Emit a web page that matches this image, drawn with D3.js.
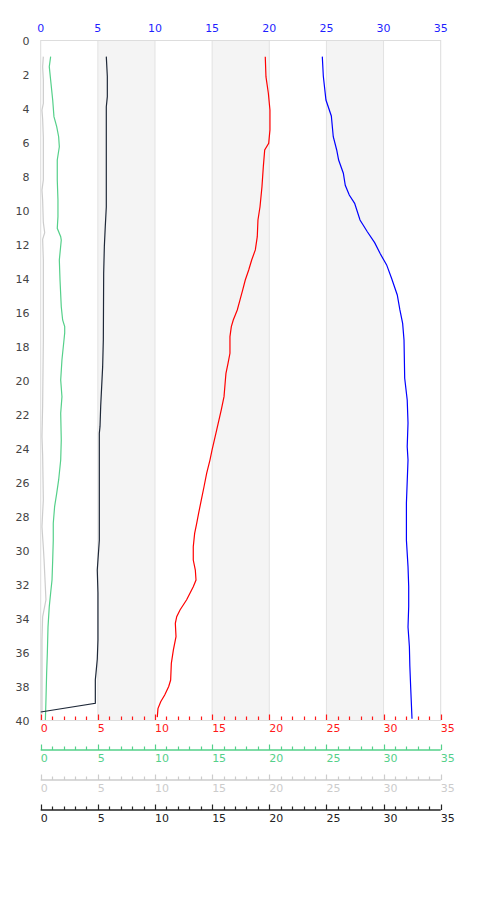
<!DOCTYPE html>
<html><head><meta charset="utf-8">
<script src="https://cdn.jsdelivr.net/npm/d3@7"></script>
<style>html,body{margin:0;padding:0;background:#fff;}svg{display:block;font-family:"DejaVu Sans",sans-serif;}</style>
</head><body>
<svg id="chart" width="480" height="900"></svg>
<script>
// ---- data (depth, value) ----
const xTicks = [0, 5, 10, 15, 20, 25, 30, 35];
const depthTicks = [0,2,4,6,8,10,12,14,16,18,20,22,24,26,28,30,32,34,36,38,40];
const bands = [[5,10],[15,20],[25,30]];

const blueProfile = [[0.95,24.64],[2.1,24.73],[3.5,24.96],[4.44,25.43],[5.66,25.6],[6.44,25.9],[7.03,26.07],[7.81,26.48],[8.52,26.65],[9.09,27.0],[9.58,27.47],[10.56,27.94],[11.25,28.58],[11.89,29.22],[12.52,29.69],[13.2,30.27],[13.99,30.7],[14.97,31.2],[15.85,31.43],[16.64,31.67],[17.62,31.79],[19.87,31.85],[21.15,32.07],[22.5,32.14],[23.9,32.07],[24.68,32.14],[27.2,32.0],[29.4,32.0],[30.95,32.14],[32.1,32.2],[33.3,32.2],[34.5,32.14],[35.66,32.26],[36.8,32.3],[38.0,32.37],[39.9,32.49]];

const redProfile = [[0.95,19.65],[2.13,19.71],[3.1,19.92],[4.09,20.06],[5.26,20.06],[6.05,19.95],[6.44,19.6],[7.42,19.48],[8.6,19.36],[9.78,19.19],[10.56,19.01],[11.54,18.95],[12.32,18.78],[12.91,18.46],[13.5,18.2],[14.09,17.9],[14.68,17.67],[15.26,17.44],[15.85,17.2],[16.44,16.85],[16.83,16.68],[17.42,16.56],[18.4,16.56],[18.99,16.39],[19.58,16.21],[19.97,16.16],[20.95,16.04],[21.73,15.8],[22.9,15.4],[24.1,14.99],[24.68,14.81],[25.46,14.52],[26.25,14.29],[27.03,14.05],[27.8,13.82],[28.4,13.65],[28.99,13.47],[29.78,13.35],[30.56,13.35],[31.15,13.53],[31.74,13.59],[32.13,13.35],[32.9,12.77],[33.5,12.19],[33.89,11.9],[34.28,11.78],[35.07,11.84],[35.85,11.61],[36.64,11.43],[37.62,11.37],[38.0,11.2],[38.5,10.85],[38.9,10.5],[39.3,10.26],[39.8,10.2]];

const blackProfile = [[0.95,5.74],[2.1,5.83],[3.3,5.83],[3.9,5.74],[9.8,5.74],[10.95,5.65],[12.1,5.57],[13.7,5.51],[17.6,5.48],[19.2,5.42],[21.5,5.25],[22.7,5.19],[23.1,5.13],[29.4,5.13],[30.56,5.01],[31.15,4.95],[32.5,5.01],[35.26,5.01],[36.4,4.95],[37.2,4.84],[37.6,4.78],[38.99,4.78],[39.5,0.0]];

const greenProfile = [[0.95,0.87],[1.54,0.75],[2.32,0.87],[3.5,1.05],[4.48,1.16],[5.07,1.4],[5.66,1.57],[6.25,1.63],[7.03,1.45],[8.2,1.45],[9.38,1.51],[10.36,1.51],[11.05,1.45],[11.54,1.75],[11.74,1.8],[12.91,1.63],[14.09,1.69],[15.66,1.8],[16.44,1.92],[16.83,2.1],[17.2,2.1],[17.6,2.04],[18.78,1.86],[19.97,1.75],[20.95,1.86],[21.93,1.75],[23.5,1.8],[24.68,1.75],[25.85,1.57],[26.64,1.4],[27.4,1.22],[28.4,1.1],[29.4,1.1],[30.56,1.05],[31.74,0.99],[32.5,0.87],[33.3,0.75],[34.5,0.64],[36.05,0.58],[37.2,0.52],[38.8,0.46],[39.97,0.41]];

const grayProfile = [[0.95,0.23],[1.54,0.17],[2.3,0.23],[3.7,0.23],[4.1,0.11],[4.6,0.17],[5.7,0.23],[8.2,0.23],[8.8,0.11],[9.4,0.17],[10.7,0.23],[11.3,0.35],[11.7,0.17],[12.9,0.23],[17.6,0.23],[21.5,0.17],[23.3,0.11],[24.4,0.17],[27.0,0.23],[28.6,0.11],[29.8,0.23],[30.5,0.29],[32.9,0.46],[33.9,0.17],[35.3,0.11],[39.6,0.11]];

// ---- layout ----
const svg = d3.select("#chart");
const pL = 40.7, pR = 440.7, pT = 40.5, pB = 720.5;
const x = d3.scaleLinear().domain([0, 35]).range([pL, pR]);
const y = d3.scaleLinear().domain([0, 40]).range([pT, pB]);

// bands
svg.append("g").selectAll("rect").data(bands).join("rect")
  .attr("x", d => x(d[0])).attr("y", pT)
  .attr("width", d => x(d[1]) - x(d[0])).attr("height", pB - pT)
  .attr("fill", "#f4f4f4").attr("stroke", "#e2e2e2").attr("stroke-width", 1);

// frame
svg.append("rect").attr("x", pL).attr("y", pT)
  .attr("width", pR - pL).attr("height", pB - pT)
  .attr("fill", "none").attr("stroke", "#dddddd").attr("stroke-width", 1);

// y labels
svg.append("g").selectAll("text").data(depthTicks).join("text")
  .attr("x", 29.5).attr("y", d => y(d) + 4)
  .attr("text-anchor", "end").attr("font-size", 11).attr("fill", "#444")
  .text(d => d);

// top axis (blue)
svg.append("g").selectAll("text").data(xTicks).join("text")
  .attr("x", d => x(d)).attr("y", 32)
  .attr("text-anchor", "middle").attr("font-size", 11).attr("fill", "#1f1fff")
  .text(d => d);

// bottom axes
function bottomAxis(yPos, color, drawLine) {
  const g = svg.append("g");
  if (drawLine) {
    g.append("line").attr("x1", pL).attr("x2", pR).attr("y1", yPos).attr("y2", yPos)
      .attr("stroke", color).attr("stroke-width", 1.3);
  }
  const minor = d3.range(0, 36, 1);
  g.selectAll("line.t").data(minor).join("line").attr("class", "t")
    .attr("x1", d => Math.round(x(d)) + 0.5).attr("x2", d => Math.round(x(d)) + 0.5)
    .attr("y1", yPos).attr("y2", d => yPos - (d % 5 === 0 ? 5.5 : 3.5))
    .attr("stroke", color).attr("stroke-width", 1.2);
  g.selectAll("text").data(xTicks).join("text")
    .attr("x", d => x(d)).attr("y", yPos + 12)
    .attr("text-anchor", "start").attr("font-size", 11).attr("fill", color)
    .text(d => d);
}
bottomAxis(720, "#ff1a1a", false);
bottomAxis(750, "#55d08a", true);
bottomAxis(780, "#cccccc", true);
bottomAxis(810, "#222222", true);

// lines
const line = d3.line().x(d => x(d[1])).y(d => y(d[0]));
const series = [
  {data: grayProfile, color: "#cccccc"},
  {data: greenProfile, color: "#55d08a"},
  {data: blackProfile, color: "#1e2838"},
  {data: redProfile, color: "#ff0000"},
  {data: blueProfile, color: "#0000ff"}
];
svg.append("g").selectAll("path").data(series).join("path")
  .attr("d", d => line(d.data)).attr("fill", "none")
  .attr("stroke", d => d.color).attr("stroke-width", 1.2);
</script>
</body></html>
